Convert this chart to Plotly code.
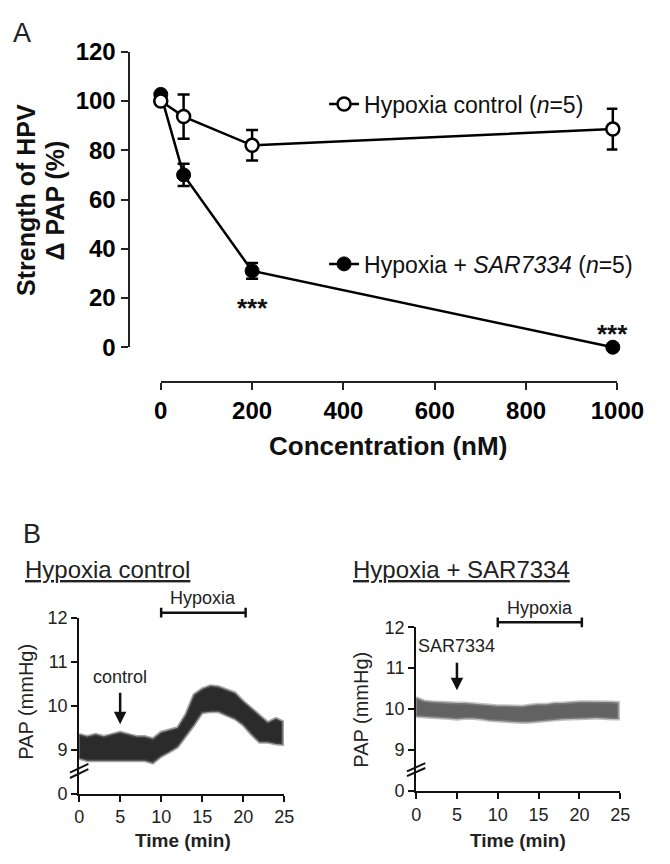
import plotly.graph_objects as go

W, H = 670, 864
FONT = "Liberation Sans, Arial, sans-serif"

# ---------------- Panel A data ----------------
conc = [0, 50, 200, 990]
ctrl_mean = [100, 93.7, 82, 88.6]
ctrl_err = [0, 9.0, 6.2, 8.3]
sar_mean = [102.7, 70, 31, 0]
sar_err = [0, 4.5, 3.2, 0.8]
sig_x = [200, 990]
sig_y = [16, 5.5]
sig_txt = ["***", "***"]
a_xticks = [0, 200, 400, 600, 800, 1000]
a_yticks = [0, 20, 40, 60, 80, 100, 120]

# ---------------- Panel B data ----------------
t_ctrl = [0, 1, 2, 3, 4, 5, 6, 7, 8, 9, 10, 11, 12, 13, 14, 15, 16, 17, 18, 19, 20, 21, 22, 23, 24, 24.8]
ctrl_lo = [8.8, 8.75, 8.75, 8.75, 8.75, 8.75, 8.75, 8.75, 8.75, 8.7, 8.85, 8.95, 9.06, 9.3, 9.56, 9.84, 9.86, 9.86, 9.78, 9.7, 9.56, 9.35, 9.17, 9.17, 9.13, 9.12]
ctrl_hi = [9.35, 9.3, 9.35, 9.3, 9.35, 9.4, 9.35, 9.3, 9.3, 9.25, 9.4, 9.45, 9.5, 9.8, 10.25, 10.38, 10.45, 10.43, 10.36, 10.29, 10.1, 9.93, 9.78, 9.62, 9.71, 9.64]
t_sar = [0, 1, 2, 3, 4, 5, 6, 7, 8, 9, 10, 11, 12, 13, 14, 15, 16, 17, 18, 19, 20, 21, 22, 23, 24, 24.8]
sar_lo = [9.82, 9.8, 9.8, 9.78, 9.77, 9.75, 9.77, 9.77, 9.75, 9.72, 9.7, 9.7, 9.68, 9.67, 9.68, 9.7, 9.72, 9.73, 9.75, 9.76, 9.77, 9.77, 9.78, 9.77, 9.76, 9.76]
sar_hi = [10.28, 10.2, 10.18, 10.17, 10.15, 10.15, 10.15, 10.13, 10.12, 10.1, 10.08, 10.08, 10.07, 10.07, 10.1, 10.12, 10.12, 10.15, 10.15, 10.17, 10.18, 10.18, 10.18, 10.17, 10.17, 10.16]
b_xticks = [0, 5, 10, 15, 20, 25]
b_yvals = [8, 9, 10, 11, 12]          # internal positions (broken axis)
b_ytext = ["0", "9", "10", "11", "12"]
b_yrange = [8, 12]
hyp_start, hyp_end = 10, 20.3
drug_time = 5


def px(x):
    return x / W


def py(y):
    return 1 - y / H


# domains (paper units)
dom_x2 = [px(76), px(292)]
dom_y2 = [py(805), py(623)]
dom_x3 = [px(431), px(646)]
dom_y3 = [py(802), py(633)]


def ypaper(v, dom):
    return dom[0] + (v - b_yrange[0]) / (b_yrange[1] - b_yrange[0]) * (dom[1] - dom[0])


fig = go.Figure()

# Panel A traces
fig.add_trace(go.Scatter(
    x=conc, y=sar_mean, mode="lines+markers",
    name="Hypoxia + <i>SAR7334</i> (<i>n</i>=5)", legend="legend2",
    line=dict(color="black", width=2.5),
    marker=dict(symbol="circle", size=14, color="black", line=dict(color="black", width=1)),
    error_y=dict(type="data", array=sar_err, color="black", thickness=2.5, width=6),
    cliponaxis=False, xaxis="x", yaxis="y"))
fig.add_trace(go.Scatter(
    x=conc, y=ctrl_mean, mode="lines+markers",
    name="Hypoxia control (<i>n</i>=5)", legend="legend",
    line=dict(color="black", width=2.5),
    marker=dict(symbol="circle", size=13, color="white", line=dict(color="black", width=2.5)),
    error_y=dict(type="data", array=ctrl_err, color="black", thickness=2.5, width=6),
    cliponaxis=False, xaxis="x", yaxis="y"))

# Panel B traces (envelopes of the recorded PAP traces)
fig.add_trace(go.Scatter(
    x=t_ctrl + t_ctrl[::-1], y=ctrl_hi + ctrl_lo[::-1], fill="toself",
    fillcolor="rgba(25,25,25,0.92)", line=dict(color="rgba(90,90,90,0.55)", width=3),
    mode="lines", showlegend=False, xaxis="x2", yaxis="y2", hoverinfo="skip"))
fig.add_trace(go.Scatter(
    x=t_sar + t_sar[::-1], y=sar_hi + sar_lo[::-1], fill="toself",
    fillcolor="rgba(70,70,70,0.85)", line=dict(color="rgba(140,140,140,0.55)", width=3),
    mode="lines", showlegend=False, xaxis="x3", yaxis="y3", hoverinfo="skip"))

axA = dict(showline=True, linecolor="#222", linewidth=2, ticks="outside", ticklen=7,
           tickwidth=2, tickcolor="#222", showgrid=False, zeroline=False,
           tickfont=dict(family=FONT, size=24, color="black", weight="bold"))
axB = dict(showline=True, linecolor="#111", linewidth=2, ticks="outside", ticklen=6,
           tickwidth=2, tickcolor="#111", showgrid=False, zeroline=False,
           tickfont=dict(family=FONT, size=18, color="#222"))

fig.update_layout(
    width=W, height=H, margin=dict(l=0, r=0, t=0, b=0),
    paper_bgcolor="white", plot_bgcolor="white",
    xaxis=dict(axA, domain=[px(162), px(643)], range=[0, 1000], tickvals=a_xticks,
               anchor="free", position=py(380)),
    yaxis=dict(axA, domain=[py(344), py(39)], range=[0, 120], tickvals=a_yticks,
               anchor="free", position=px(128)),
    xaxis2=dict(axB, domain=dom_x2, range=[0, 25], tickvals=b_xticks, anchor="y2"),
    yaxis2=dict(axB, domain=dom_y2, range=b_yrange, tickvals=b_yvals,
                ticktext=b_ytext, anchor="x2"),
    xaxis3=dict(axB, domain=dom_x3, range=[0, 25], tickvals=b_xticks, anchor="y3"),
    yaxis3=dict(axB, domain=dom_y3, range=b_yrange, tickvals=b_yvals,
                ticktext=b_ytext, anchor="x3"),
    legend=dict(x=px(334), y=py(93), xanchor="left", yanchor="middle",
                bgcolor="rgba(0,0,0,0)", font=dict(family=FONT, size=23, color="#111")),
    legend2=dict(x=px(334), y=py(258), xanchor="left", yanchor="middle",
                 bgcolor="rgba(0,0,0,0)", font=dict(family=FONT, size=23, color="#111")),
)

ann = []


def txt(x, y, s, size, bold=False, xanchor="center", yanchor="middle", angle=0, color="#111", under=False):
    f = dict(family=FONT, size=size, color=color)
    if bold:
        f["weight"] = "bold"
    if under:
        f["lineposition"] = "under"
    ann.append(dict(x=x, y=y, xref="paper", yref="paper", text=s, showarrow=False,
                    xanchor=xanchor, yanchor=yanchor, textangle=angle, font=f))


txt(px(4), py(2), "A", 27, xanchor="left", yanchor="top", color="#222")
txt(px(15), py(519), "B", 27, xanchor="left", yanchor="top", color="#222")
txt(px(20), py(192), "Strength of HPV", 25, bold=True, angle=-90)
txt(px(51), py(192), "Δ PAP (%)", 25, bold=True, angle=-90)
txt(px(401), py(446), "Concentration (nM)", 26, bold=True)

for sx, sy, st in zip(sig_x, sig_y, sig_txt):
    ann.append(dict(x=sx, y=sy, xref="x", yref="y", text=st, showarrow=False,
                    font=dict(family=FONT, size=26, color="#111", weight="bold")))

# Panel B texts
txt(px(17), py(573), "Hypoxia control", 24, xanchor="left", under=True, color="#222")
txt(px(362), py(573), "Hypoxia + SAR7334", 24, xanchor="left", under=True, color="#222")
txt(px(20), py(710), "PAP (mmHg)", 20, angle=-90, color="#222")
txt(px(372), py(718), "PAP (mmHg)", 20, angle=-90, color="#222")
txt(px(185), py(853), "Time (min)", 19, bold=True, color="#222")
txt(px(538), py(853), "Time (min)", 19, bold=True, color="#222")

# hypoxia labels & bars, drug arrows
panels = [("x2", "y2", dom_y2, 12.44, 12.11, 9.58, 10.33, 10.66, "control"),
          ("x3", "y3", dom_y3, 12.47, 12.12, 10.46, 11.17, 11.53, "SAR7334")]
shapes = []
for xa, ya, dom, lab_y, bar_y, arr_tip, arr_tail, lab_txt_y, lab in panels:
    ann.append(dict(x=(hyp_start + hyp_end) / 2, y=ypaper(lab_y, dom), xref=xa, yref="paper",
                    text="Hypoxia", showarrow=False, yanchor="middle",
                    font=dict(family=FONT, size=18, color="#222")))
    ann.append(dict(x=drug_time, y=ypaper(lab_txt_y, dom), xref=xa, yref="paper",
                    text=lab, showarrow=False, yanchor="middle",
                    font=dict(family=FONT, size=18, color="#222")))
    ann.append(dict(x=drug_time, y=arr_tip, ax=drug_time, ay=arr_tail, xref=xa, yref=ya,
                    axref=xa, ayref=ya, text="", showarrow=True, arrowhead=2, arrowsize=1,
                    arrowwidth=2.5, arrowcolor="#111"))
    yb = ypaper(bar_y, dom)
    shapes.append(dict(type="line", xref=xa, yref="paper", x0=hyp_start, x1=hyp_end,
                       y0=yb, y1=yb, line=dict(color="#111", width=2.5)))
    for xe in (hyp_start, hyp_end):
        shapes.append(dict(type="line", xref=xa, yref="paper", x0=xe, x1=xe,
                           y0=yb - 0.0058, y1=yb + 0.0058, line=dict(color="#111", width=2.5)))
    # axis break marks
    for off in (0.0, 0.03):
        shapes.append(dict(type="line", xref=xa + " domain", yref=ya + " domain",
                           x0=-0.045, x1=0.045, y0=0.09 + off, y1=0.14 + off,
                           line=dict(color="#111", width=2)))

fig.update_layout(annotations=ann, shapes=shapes)
fig.write_html("out.html", config={"displayModeBar": False},
               post_script="document.body.style.margin='0';document.body.style.overflow='hidden';")
